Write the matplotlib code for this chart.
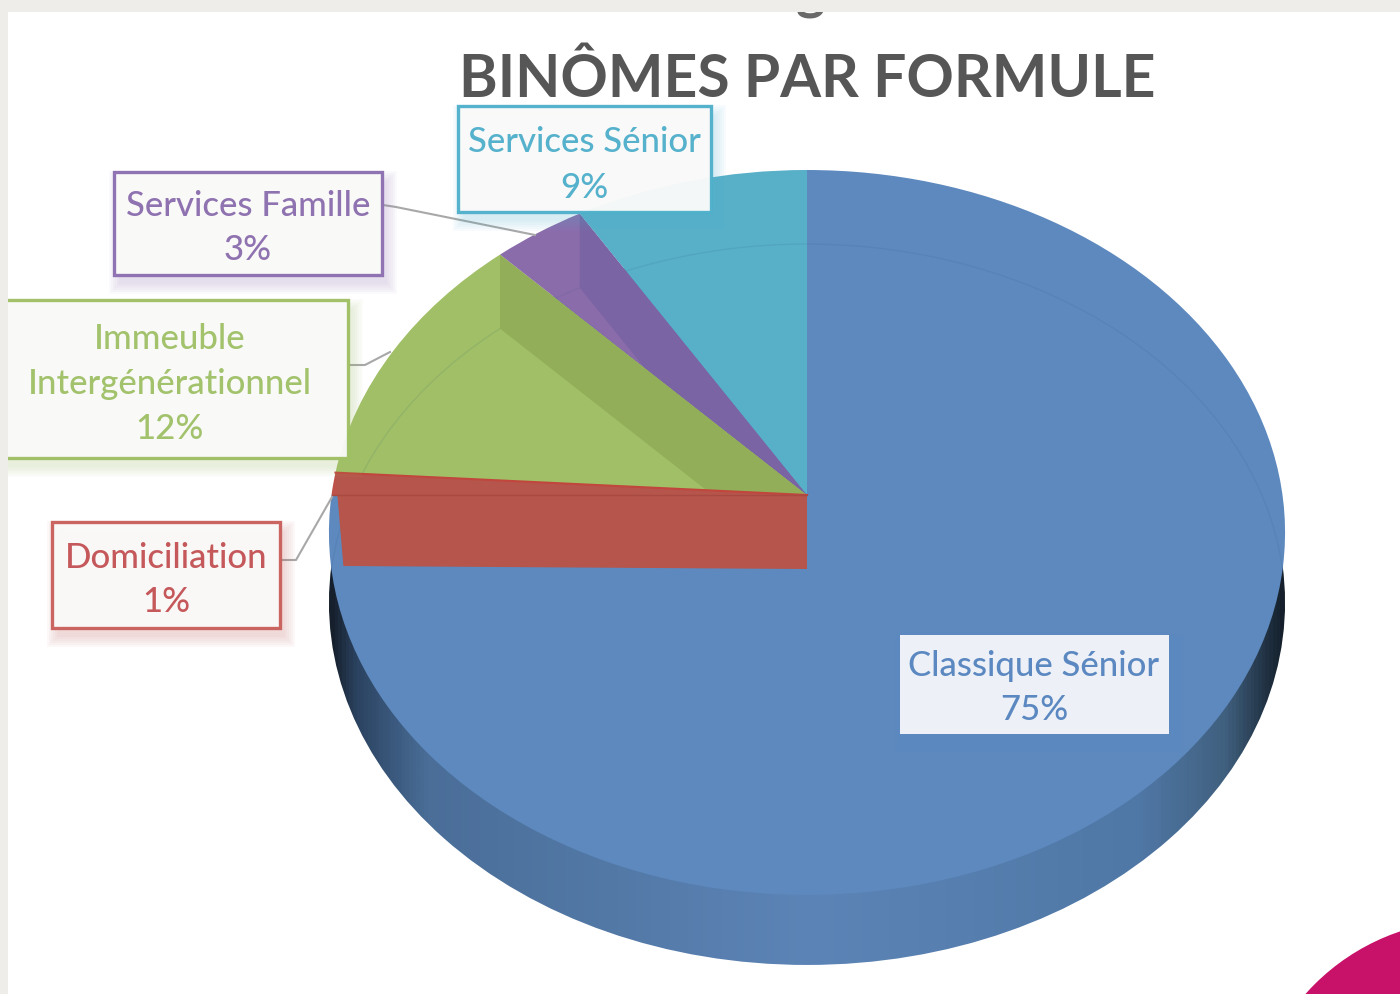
import numpy as np
from matplotlib import pyplot as plt
from matplotlib.colors import LinearSegmentedColormap
from matplotlib.patches import Circle, Polygon, Rectangle
from matplotlib.transforms import Transform

plt.rcParams['font.family'] = ['Lato', 'DejaVu Sans']

title = "BINÔMES PAR FORMULE"
categories = ["Classique Sénior", "Domiciliation", "Immeuble\nIntergénérationnel", "Services Famille", "Services Sénior"]
values = [75, 1.0, 11.8, 3.49, 8.71]
pct_labels = ["75%", "1%", "12%", "3%", "9%"]

face_colors = ["#5D89BE", "#BC5249", "#A0BF66", "#8B6CAB", "#58AFC8"]
edge_colors = [None, "#C9605C", "#9FBF63", "#8D6FB0", "#4FB0CB"]
text_colors = ["#5B88C0", "#C5585A", "#A2C26C", "#8F72B0", "#55B1CC"]
wall_colors = ["#5D89BE", "#B5554B", "#92AE59", "#7A64A3", "#58AFC8"]

# boites des etiquettes: gauche, haut, droite, bas (pixels)
boxes = [(900, 635, 1169, 734), (52, 522, 280, 628), (-5, 300, 348, 458), (114, 172, 382, 275), (458, 106, 711, 212)]
text_pos = [(1034, 688), (166, 580), (170, 384), (248, 228), (584, 165)]
leaders = {1: ([281, 296, 332], [560, 560, 497]),
           2: ([349, 365, 390], [365, 365, 352]),
           3: ([383, 396, 535], [205, 207, 235])}

# geometrie de la perspective
CX, APEX_Y = 807, 495
A, B, C = 358.6, 0.1034, 475.5
DEPTH = 74
BOTTOM = 70


class Tilt(Transform):
    input_dims = 2
    output_dims = 2
    is_separable = False

    def __init__(self, offset=0):
        super().__init__()
        self.offset = offset

    def transform_non_affine(self, xy):
        xy = np.asarray(xy)
        w = 1 + B * xy[:, 1]
        return np.column_stack((CX + C * xy[:, 0] / w, APEX_Y - A * xy[:, 1] / w + self.offset))


def project(theta, r=1.0, offset=0):
    t = np.radians(theta)
    return Tilt(offset).transform_non_affine(np.array([[r * np.cos(t), r * np.sin(t)]]))[0]


def wall(theta, color, alpha, clip=None, r=1.0):
    pts = [project(0, 0), project(theta), project(theta, r, DEPTH), project(0, 0, DEPTH)]
    p = Polygon(pts, closed=True, fc=color, ec="none", alpha=alpha, zorder=3)
    ax.add_patch(p)
    if clip is not None:
        p.set_clip_path(clip)
    return p


fig = plt.figure(figsize=(14, 9.94), dpi=100, facecolor="white")
ax = fig.add_axes([0, 0, 1, 1])

# fond: tache rose dans le coin
ax.add_patch(Circle((1470, 1140), 220, fc="#C8126A", ec="none", zorder=0))

# paroi laterale
side_cmap = LinearSegmentedColormap.from_list(
    "side", [(0, "#16202C"), (0.025, "#2B4260"), (0.1, "#4A6E98"), (0.5, "#5C84B6"),
             (0.85, "#5078A6"), (0.94, "#40607F"), (1, "#15202C")])
grad = np.linspace(0, 1, 256).reshape(1, -1)
im = ax.imshow(grad, cmap=side_cmap, extent=(329, 1286, 980, 160), aspect="auto", interpolation="bilinear", zorder=1)
bottom_disc = Circle((0, 0), 1, fc="none", ec="none", transform=Tilt(BOTTOM) + ax.transData)
ax.add_patch(bottom_disc)
im.set_clip_path(bottom_disc)

# face superieure
wedges, _ = ax.pie(values, colors=face_colors, startangle=90, counterclock=False, radius=1,
                   wedgeprops=dict(linewidth=0))
top_tr = Tilt(0) + ax.transData
for w in wedges:
    w.set_transform(top_tr)
    w.set_zorder(2)

ax.set_aspect("auto")
ax.set_xlim(0, 1400)
ax.set_ylim(994, 0)
ax.set_axis_off()

# bord du fond, visible a travers le dessus
rim = Circle((0, 0), 1, fc="none", ec="#26507F", lw=1.0, alpha=0.1, transform=Tilt(DEPTH) + ax.transData, zorder=2.5)
ax.add_patch(rim)
top_disc = Circle((0, 0), 1, fc="none", ec="none", transform=top_tr)
ax.add_patch(top_disc)
rim.set_clip_path(top_disc)

# parois internes vues par transparence
edges = 90 - 360 * np.cumsum(values) / np.sum(values)
wall(edges[3], wall_colors[3], 1.0, wedges[3])
wall(edges[2], wall_colors[2], 1.0, wedges[2])
# paroi rouge devant le bleu
red_pts = [project(0, 0), project(edges[1]), project(edges[0], 0.975, DEPTH - 3), project(0, 0, DEPTH)]
ax.add_patch(Polygon(red_pts, closed=True, fc=wall_colors[1], ec="none", zorder=3))
p0, p1 = project(0, 0), project(edges[1])
ax.plot([p0[0], p1[0]], [p0[1], p1[1]], color="#C0463E", lw=1.5, zorder=4)
p2 = project(edges[0])
ax.plot([p0[0], p2[0]], [p0[1], p2[1]], color="#A84A42", lw=1.0, zorder=4)

# filets de rappel
for i, (xs, ys) in leaders.items():
    ax.plot(xs, ys, color="#A8A8A8", lw=1.5, zorder=5)

# etiquettes
for i, name in enumerate(categories):
    x0, y0, x1, y1 = boxes[i]
    for k in range(6):
        grow = 10 - 2 * k
        ax.add_patch(Rectangle((x0 + 5 - grow, y0 + 9 - grow), x1 - x0 + 2 * grow, y1 - y0 + 2 * grow,
                               fc=text_colors[i], ec="none", alpha=0.04, zorder=6))
    if edge_colors[i] is None:
        ax.add_patch(Rectangle((x0, y0), x1 - x0, y1 - y0, fc="#EDF1F7", ec="none", zorder=7))
    else:
        ax.add_patch(Rectangle((x0, y0), x1 - x0, y1 - y0, fc="#FAFAF9", ec=edge_colors[i], lw=2.4, alpha=0.97, zorder=7))
    tx, ty = text_pos[i]
    ax.text(tx, ty, name + "\n" + pct_labels[i], color=text_colors[i], fontsize=25, fontweight=500, ha="center",
            va="center", linespacing=1.5, zorder=8)

# titre, et le bas du titre precedent coupe par le cadre
ax.text(807, 80, title, color="#565656", fontsize=42.3, fontweight="bold", ha="center", va="center", zorder=8)
ax.text(810, 8, "g", color="#6A6A6A", fontsize=40, fontweight="bold", ha="center", va="baseline", zorder=8)

# cadre gris en haut et a gauche
ax.add_patch(Rectangle((0, 0), 1400, 12, fc="#EEEDEA", ec="none", zorder=9))
ax.add_patch(Rectangle((0, 0), 8, 994, fc="#EEEDEA", ec="none", zorder=9))

fig.savefig("out.png", dpi=100)
